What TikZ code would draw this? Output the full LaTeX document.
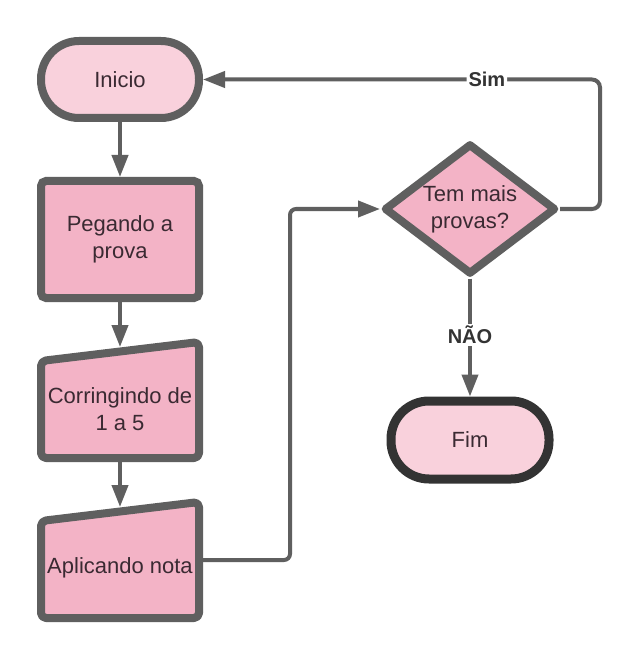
\documentclass[tikz,border=0pt]{standalone}
\usepackage{fontspec}
\setmainfont{Liberation Sans}
\usetikzlibrary{shapes.geometric,arrows.meta,calc}
\definecolor{edge}{HTML}{5F5F5F}
\definecolor{lightpink}{HTML}{F9D1DC}
\definecolor{midpink}{HTML}{F3B3C6}
\definecolor{ink}{HTML}{3A2A32}
\definecolor{dark}{HTML}{333333}
\begin{document}
\begin{tikzpicture}[x=1pt,y=-1pt,
  every node/.style={font=\fontsize{22}{27}\selectfont, text=ink},
  terminal/.style={draw=edge, line width=8pt, fill=lightpink, rounded corners=38pt,
    minimum width=158pt, minimum height=77pt, inner sep=0pt},
  procbox/.style={draw=edge, line width=8pt, fill=midpink, rounded corners=5pt,
    minimum width=158pt, minimum height=117pt, align=center, inner sep=0pt},
  frame/.style={minimum width=158pt, minimum height=116pt, inner sep=0pt, outer sep=4pt},
  inputshape/.style={draw=edge, line width=8pt, fill=midpink, rounded corners=5pt, line join=round},
  txt/.style={align=center, inner sep=0pt},
  decision/.style={diamond, draw=edge, line width=8pt, fill=midpink, minimum width=172pt,
    minimum height=131pt, inner sep=0pt, aspect=1.31, align=center, line join=round},
  flow/.style={draw=edge, line width=4pt, -{Triangle[length=22pt,width=16pt]}},
  lbl/.style={fill=white, font=\bfseries\fontsize{20}{24}\selectfont, text=dark, inner sep=2pt}
]
\useasboundingbox[fill=white] (0,0) rectangle (643,660);

% start
\node[terminal] (ini) at (120,79.5) {Inicio};
% process
\node[procbox] (peg) at (120,239.5) {Pegando a\\prova};

% manual input 1
\node[frame] (cor) at (120,400) {};
\path[inputshape] ($(cor.center)+(-79,58)$) -- ($(cor.center)+(79,58)$)
  -- ($(cor.center)+(79,-58)$) -- ($(cor.center)+(-79,-39)$) -- cycle;
\node[txt] (cortxt) at (120,409) {Corringindo de\\1 a 5};
\coordinate (cortop) at ($(cor.center)+(0,-53)$);

% manual input 2
\node[frame] (apl) at (120,560) {};
\path[inputshape] ($(apl.center)+(-79,58)$) -- ($(apl.center)+(79,58)$)
  -- ($(apl.center)+(79,-58)$) -- ($(apl.center)+(-79,-39)$) -- cycle;
\node[txt] (apltxt) at (120,568) {Aplicando nota};
\coordinate (apltop) at ($(apl.center)+(0,-53)$);

% decision
\node[decision] (dec) at (470,209) {Tem mais\\provas?};
% end
\node[terminal, draw=dark, line width=9pt, minimum height=78pt] (fim) at (470,440) {Fim};

\coordinate (j1) at (290,0);
\coordinate (j2) at (600,0);

\draw[flow] (ini) -- (peg);
\draw[flow] (peg) -- (cortop);
\draw[flow] (cor.south) -- (apltop);
\draw[flow, rounded corners=6pt] (apl.east) -- (apl.east -| j1) -- (j1 |- dec.west) -- (dec.west);
\draw[flow, rounded corners=8pt] (dec.east) -- (dec.east -| j2) -- (j2 |- ini.east)
  -- node[lbl, pos=0.285] {Sim} (ini.east);
\draw[flow] (dec.south) -- node[lbl, yshift=3pt] {NÃO} (fim.north);
\end{tikzpicture}
\end{document}
